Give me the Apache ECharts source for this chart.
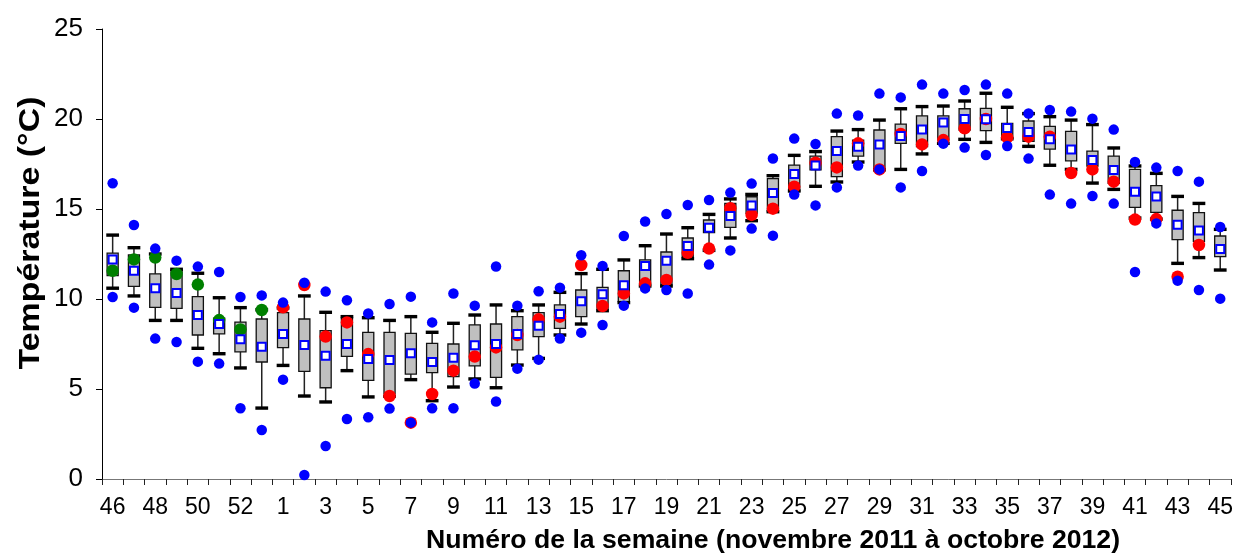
<!DOCTYPE html>
<html>
<head>
<meta charset="utf-8">
<script src="https://cdn.jsdelivr.net/npm/echarts@6/dist/echarts.min.js"></script>
<style>
html,body{margin:0;padding:0;background:#fff;}
#chart{width:1236px;height:554px;}
</style>
</head>
<body>
<div id="chart"></div>
<script>
// Week numbers (November 2011 to October 2012)
const weeks = ['46','47','48','49','50','51','52','53','1','2','3','4','5','6','7','8','9','10','11','12','13','14','15','16','17','18','19','20','21','22','23','24','25','26','27','28','29','30','31','32','33','34','35','36','37','38','39','40','41','42','43','44','45'];

// Upper whisker cap
const whiskerHigh = [13.55,12.85,12.5,11.65,11.43,10.07,9.52,9.4,9.5,10.17,9.26,9.02,8.96,8.81,9.02,8.15,8.65,9.11,9.67,9.35,9.67,10.37,11.41,11.65,12.17,12.96,13.61,13.96,14.7,15.56,15.81,16.85,17.98,18.19,19.33,19.41,19.94,20.57,20.69,20.72,21.0,21.43,20.65,20.3,20.13,19.94,19.69,18.39,17.39,16.98,15.7,15.31,13.87];
// Box top (Q3)
const boxHigh = [12.55,12.45,11.4,11.62,10.13,8.93,8.72,8.89,9.24,8.89,8.24,8.95,8.15,8.15,8.09,7.54,7.5,8.56,8.61,9.02,9.24,9.67,10.5,10.65,11.57,12.17,12.61,13.39,14.39,15.31,15.68,16.69,17.44,17.94,19.02,18.83,19.39,19.72,20.17,20.17,20.57,20.59,19.76,19.89,19.59,19.31,18.22,17.94,17.2,16.3,14.93,14.8,13.5];
// Mean
const meanVals = [12.2,11.57,10.6,10.33,9.11,8.61,7.76,7.35,8.06,7.44,6.85,7.5,6.67,6.61,6.98,6.5,6.74,7.43,7.5,8.06,8.52,9.17,9.87,10.26,10.76,11.83,12.13,12.94,13.96,14.61,15.19,15.89,16.94,17.41,18.22,18.46,18.59,19.06,19.41,19.81,20.0,19.98,19.5,19.28,18.87,18.31,17.72,17.17,15.96,15.69,14.13,13.8,12.78];
// Box bottom (Q1)
const boxLow = [11.3,10.7,9.54,9.48,8.0,8.06,7.06,6.5,7.3,5.98,5.07,6.81,5.48,4.76,5.83,5.91,5.69,6.28,5.65,7.17,7.91,8.37,9.02,9.45,9.85,10.78,10.78,12.35,13.69,13.98,14.76,14.85,16.0,17.17,16.8,17.94,17.17,18.65,18.46,18.83,19.39,19.35,18.93,18.76,18.33,17.67,17.39,16.43,15.09,14.81,13.3,13.2,12.35];
// Lower whisker cap
const whiskerLow = [10.6,10.17,8.81,8.81,7.26,6.96,6.17,3.94,6.31,4.61,4.28,6.02,4.56,4.6,5.52,4.35,5.11,5.56,5.07,6.33,6.7,8.0,8.61,9.35,9.8,10.72,10.72,12.24,12.7,13.39,14.35,14.85,16.0,16.26,16.5,17.61,17.17,17.2,18.06,18.65,18.87,18.7,18.9,18.48,17.43,17.2,16.44,16.09,14.5,14.44,11.98,12.3,11.61];
// Highest observed (blue)
const maxObs = [16.43,14.11,12.8,12.13,11.8,11.5,10.11,10.2,9.8,10.9,10.41,9.93,9.2,9.72,10.13,8.7,10.31,9.63,11.81,9.63,10.43,10.63,12.43,11.83,13.5,14.31,14.72,15.22,15.5,15.91,16.41,17.81,18.91,18.61,20.3,20.19,21.41,21.2,21.91,21.41,21.61,21.91,21.41,20.31,20.5,20.41,20.02,19.41,17.61,17.3,17.11,16.52,14.0];
// Lowest observed (blue)
const minObs = [10.11,9.52,7.8,7.61,6.52,6.41,3.93,2.72,5.52,0.22,1.83,3.33,3.43,3.91,3.13,3.93,3.93,5.31,4.31,6.13,6.63,7.81,8.13,8.56,9.63,10.59,10.5,10.31,11.91,12.7,13.91,13.52,15.81,15.2,16.2,17.41,17.2,16.2,17.11,18.63,18.41,18.0,18.5,17.8,15.8,15.3,15.72,15.3,11.5,14.2,11.02,10.5,10.02];
// Weekly values for 2011 (green)
const green2011 = [11.57,12.2,12.3,11.39,10.8,8.83,8.31,9.39,null,null,null,null,null,null,null,null,null,null,null,null,null,null,null,null,null,null,null,null,null,null,null,null,null,null,null,null,null,null,null,null,null,null,null,null,null,null,null,null,null,null,null,null,null];
// Weekly values for 2012 (red)
const red2012 = [null,null,null,null,null,null,null,null,9.54,10.78,7.91,8.7,6.94,4.61,3.13,4.72,6.02,6.8,7.31,8.0,8.87,9.02,11.89,9.61,10.31,10.87,11.06,12.57,12.8,15.04,14.67,15.02,16.24,17.57,17.31,18.65,17.2,19.17,18.59,18.83,19.48,20.0,18.98,19.02,19.02,17.0,17.2,16.52,14.41,14.44,11.24,13.0,null];

const yTicks = [0, 5, 10, 15, 20, 25];
const xTitle = 'Numéro de la semaine (novembre 2011 à octobre 2012)';
const yTitle = 'Température (°C)';

const FONT = '"Liberation Sans", Arial, sans-serif';
const chart = echarts.init(document.getElementById('chart'));

const boxData = weeks.map((w, i) => [i, whiskerLow[i], boxLow[i], boxHigh[i], whiskerHigh[i]]);

function renderBox(params, api) {
  const i = api.value(0);
  const lowCap = api.coord([i, api.value(1)]);
  const q1 = api.coord([i, api.value(2)]);
  const q3 = api.coord([i, api.value(3)]);
  const highCap = api.coord([i, api.value(4)]);
  const band = api.size([1, 0])[0];
  const boxW = band * 0.52;
  const capW = band * 0.6;
  const cx = q1[0];
  return {
    type: 'group',
    children: [
      { type: 'line', shape: { x1: cx, y1: highCap[1], x2: cx, y2: lowCap[1] },
        style: { stroke: '#222', lineWidth: 1.5 } },
      { type: 'rect', shape: { x: cx - boxW / 2, y: q3[1], width: boxW, height: q1[1] - q3[1] },
        style: { fill: '#c0c0c0', stroke: '#111', lineWidth: 1.3 } },
      { type: 'rect', shape: { x: cx - capW / 2, y: highCap[1] - 1.7, width: capW, height: 3.4 },
        style: { fill: '#000' } },
      { type: 'rect', shape: { x: cx - capW / 2, y: lowCap[1] - 1.7, width: capW, height: 3.4 },
        style: { fill: '#000' } }
    ]
  };
}

const option = {
  animation: false,
  backgroundColor: '#fff',
  grid: { left: 102, right: 4, top: 29, bottom: 75, containLabel: false },
  xAxis: {
    type: 'category',
    data: weeks,
    boundaryGap: true,
    axisLine: { show: true, lineStyle: { color: '#777', width: 1 } },
    axisTick: { show: true, interval: 0, length: 6, lineStyle: { color: '#222' } },
    axisLabel: { interval: 1, fontSize: 23, color: '#000', fontFamily: FONT, margin: 17 },
    splitLine: { show: false }
  },
  yAxis: {
    type: 'value',
    min: yTicks[0],
    max: yTicks[yTicks.length - 1],
    interval: 5,
    axisLine: { show: true, lineStyle: { color: '#000', width: 1 } },
    axisTick: { show: true, length: 6, lineStyle: { color: '#000' } },
    axisLabel: { fontSize: 26, color: '#000', fontFamily: FONT, margin: 19 },
    splitLine: { show: false }
  },
  graphic: [
    { type: 'text', x: 31, y: 233, rotation: Math.PI / 2, scaleX: 1.13,
      style: { text: yTitle, fontSize: 30, fontWeight: 'bold', fontFamily: FONT, fill: '#000',
               align: 'center', verticalAlign: 'middle', textAlign: 'center', textVerticalAlign: 'middle' } },
    { type: 'text', x: 773, y: 541, scaleX: 1.065,
      style: { text: xTitle, fontSize: 25, fontWeight: 'bold', fontFamily: FONT, fill: '#000',
               align: 'center', verticalAlign: 'middle', textAlign: 'center', textVerticalAlign: 'middle' } }
  ],
  series: [
    { type: 'custom', name: 'box', renderItem: renderBox, data: boxData,
      encode: { x: 0, y: [1, 2, 3, 4] }, z: 2, silent: true },
    { type: 'scatter', name: '2012', data: red2012, symbol: 'circle', symbolSize: 12.5,
      itemStyle: { color: '#ff0000', opacity: 1 }, z: 3, silent: true },
    { type: 'scatter', name: '2011', data: green2011, symbol: 'circle', symbolSize: 12.5,
      itemStyle: { color: '#008000', opacity: 1 }, z: 3, silent: true },
    { type: 'scatter', name: 'max', data: maxObs, symbol: 'circle', symbolSize: 10.5,
      itemStyle: { color: '#0000ff', opacity: 1 }, z: 4, silent: true },
    { type: 'scatter', name: 'min', data: minObs, symbol: 'circle', symbolSize: 10.5,
      itemStyle: { color: '#0000ff', opacity: 1 }, z: 4, silent: true },
    { type: 'scatter', name: 'moyenne', data: meanVals, symbol: 'rect', symbolSize: 8,
      itemStyle: { color: '#ffffff', borderColor: '#0000ff', borderWidth: 2, opacity: 1 }, z: 5, silent: true }
  ]
};
chart.setOption(option);
</script>
</body>
</html>
